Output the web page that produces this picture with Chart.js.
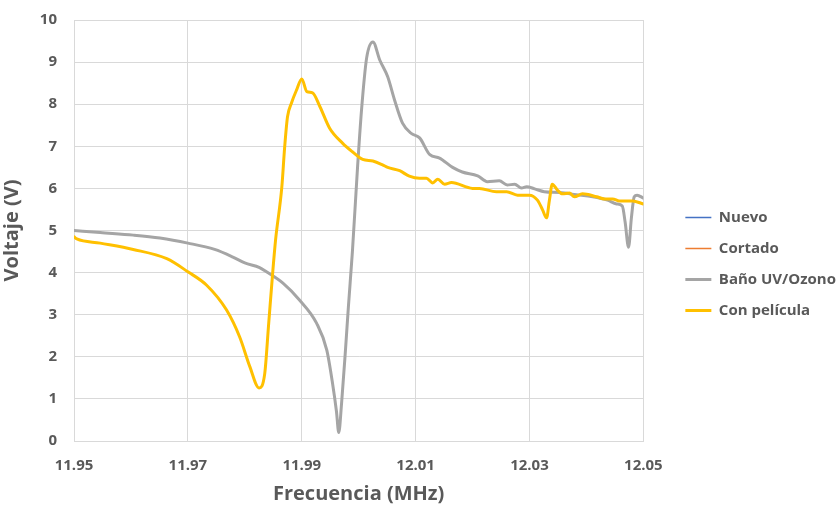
<!DOCTYPE html>
<html>
<head>
<meta charset="utf-8">
<script src="https://cdn.jsdelivr.net/npm/chart.js@4/dist/chart.umd.min.js"></script>
<style>
  html, body { margin: 0; padding: 0; background: #fff; }
  #wrap { width: 839px; height: 506px; }
</style>
</head>
<body>
<div id="wrap"><canvas id="respChart" width="839" height="506"></canvas></div>
<script>
// frequency (MHz) / voltage (V) readings per sample
const xTicks = [11.95, 11.97, 11.99, 12.01, 12.03, 12.05];

const nuevoX = [];
const nuevoY = [];
const cortadoX = [];
const cortadoY = [];

const banoX = [11.9500, 11.9546, 11.9604, 11.9651, 11.9700, 11.9747, 11.9779, 11.9800, 11.9826, 11.9838,
  11.9867, 11.9896, 11.9926, 11.9944, 11.9954, 11.9961, 11.9965, 11.9970, 11.9977, 11.9982,
  11.9989, 11.9998, 12.0005, 12.0014, 12.0025, 12.0037, 12.0051, 12.0063, 12.0077, 12.0093,
  12.0107, 12.0125, 12.0142, 12.0165, 12.0182, 12.0209, 12.0226, 12.0247, 12.0261, 12.0274,
  12.0286, 12.0295, 12.0309, 12.0326, 12.0353, 12.0382, 12.0411, 12.0437, 12.0453, 12.0463,
  12.0468, 12.0474, 12.0479, 12.0484, 12.0489, 12.0500];
const banoY = [5.00, 4.95, 4.89, 4.82, 4.70, 4.55, 4.37, 4.23, 4.12, 4.02,
  3.75, 3.35, 2.80, 2.16, 1.38, 0.70, 0.20, 0.90, 2.20, 3.20,
  4.50, 6.50, 7.86, 9.10, 9.48, 9.05, 8.65, 8.10, 7.55, 7.30,
  7.20, 6.80, 6.72, 6.50, 6.39, 6.30, 6.16, 6.18, 6.08, 6.10,
  6.01, 6.04, 5.99, 5.92, 5.90, 5.85, 5.80, 5.72, 5.63, 5.58,
  5.20, 4.60, 5.30, 5.80, 5.84, 5.77];

const peliculaX = [11.9500, 11.9505, 11.9546, 11.9604, 11.9663, 11.9700, 11.9733, 11.9768, 11.9791, 11.9809,
  11.9825, 11.9835, 11.9842, 11.9849, 11.9854, 11.9865, 11.9870, 11.9875, 11.9882, 11.9891,
  11.9900, 11.9909, 11.9919, 11.9932, 11.9949, 11.9972, 11.9989, 12.0007, 12.0025, 12.0042,
  12.0051, 12.0072, 12.0089, 12.0107, 12.0119, 12.0130, 12.0139, 12.0151, 12.0163, 12.0200,
  12.0212, 12.0242, 12.0260, 12.0279, 12.0300, 12.0314, 12.0323, 12.0330, 12.0335, 12.0340,
  12.0349, 12.0358, 12.0370, 12.0379, 12.0393, 12.0418, 12.0432, 12.0446, 12.0458, 12.0481,
  12.0500];
const peliculaY = [4.85, 4.80, 4.70, 4.55, 4.33, 4.02, 3.70, 3.11, 2.47, 1.76,
  1.26, 1.60, 2.80, 4.00, 4.77, 6.03, 6.98, 7.70, 8.03, 8.34,
  8.60, 8.30, 8.27, 7.94, 7.43, 7.07, 6.87, 6.69, 6.65, 6.56,
  6.50, 6.42, 6.29, 6.24, 6.24, 6.13, 6.22, 6.10, 6.14, 6.00,
  6.00, 5.92, 5.92, 5.84, 5.84, 5.72, 5.49, 5.30, 5.72, 6.10,
  5.96, 5.87, 5.89, 5.80, 5.87, 5.80, 5.75, 5.75, 5.70, 5.70,
  5.63];

const toPoints = (xs, ys) => xs.map((x, i) => ({ x: x, y: ys[i] }));

const textColor = '#595959';
const gridColor = '#d9d9d9';
const fontFamily = '"Open Sans", sans-serif';

// nudge the legend block away from the plot edge
const legendShift = {
  id: 'legendShift',
  afterLayout(chart) {
    const lg = chart.legend;
    if (!lg) return;
    lg.left += 26;
    lg.right += 26;
    lg.top += 1;
    lg.bottom += 1;
  }
};

window.addEventListener('load', () => {
  const ctx = document.getElementById('respChart').getContext('2d');
  new Chart(ctx, {
    type: 'line',
    data: {
      datasets: [
        { label: 'Nuevo', data: toPoints(nuevoX, nuevoY), borderColor: '#4472C4', backgroundColor: '#4472C4', borderWidth: 1.5, order: 2 },
        { label: 'Cortado', data: toPoints(cortadoX, cortadoY), borderColor: '#ED7D31', backgroundColor: '#ED7D31', borderWidth: 1.5, order: 2 },
        { label: 'Baño UV/Ozono', data: toPoints(banoX, banoY), borderColor: '#A5A5A5', backgroundColor: '#A5A5A5', borderWidth: 3, order: 1 },
        { label: 'Con película', data: toPoints(peliculaX, peliculaY), borderColor: '#FFC000', backgroundColor: '#FFC000', borderWidth: 3, order: 0 }
      ]
    },
    plugins: [legendShift],
    options: {
      responsive: false,
      animation: false,
      elements: {
        point: { radius: 0 },
        line: { cubicInterpolationMode: 'monotone', borderCapStyle: 'round', borderJoinStyle: 'round' }
      },
      layout: { padding: { top: 20, right: 19, bottom: 0, left: 0 } },
      plugins: {
        tooltip: { enabled: false },
        legend: {
          position: 'right',
          labels: {
            usePointStyle: true,
            pointStyle: 'line',
            pointStyleWidth: 26,
            padding: 16,
            color: textColor,
            sort: (a, b) => a.datasetIndex - b.datasetIndex,
            font: { family: fontFamily, size: 15, weight: 700 }
          }
        }
      },
      scales: {
        x: {
          type: 'linear',
          min: 11.95,
          max: 12.05,
          afterBuildTicks: (scale) => { scale.ticks = xTicks.map(v => ({ value: v })); },
          afterFit: (scale) => { scale.height = 65; },
          grid: { color: gridColor, drawTicks: false },
          border: { color: gridColor },
          ticks: {
            padding: 16,
            maxRotation: 0,
            color: textColor,
            font: { family: fontFamily, size: 15, weight: 700 },
            callback: (v) => v.toFixed(2)
          },
          title: {
            display: true,
            text: 'Frecuencia (MHz)',
            color: textColor,
            padding: { top: 4, bottom: 0 },
            font: { family: fontFamily, size: 20, weight: 700 }
          }
        },
        y: {
          min: 0,
          max: 10,
          afterFit: (scale) => {
            scale.width = 74;
            scale.paddingTop = 0;
            scale.paddingBottom = 0;
          },
          grid: { color: gridColor, drawTicks: false },
          border: { color: gridColor },
          ticks: {
            stepSize: 1,
            padding: 17,
            color: textColor,
            font: { family: fontFamily, size: 15, weight: 700 }
          },
          title: {
            display: true,
            text: 'Voltaje (V)',
            color: textColor,
            padding: { top: 0, bottom: 4 },
            font: { family: fontFamily, size: 20, weight: 700 }
          }
        }
      }
    }
  });
});
</script>
</body>
</html>
